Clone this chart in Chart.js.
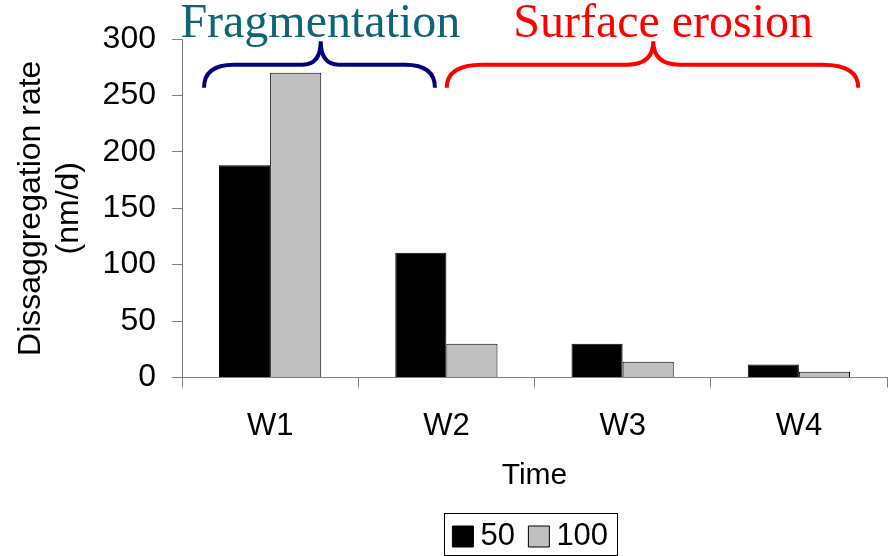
<!DOCTYPE html>
<html>
<head>
<meta charset="utf-8">
<script src="https://cdn.jsdelivr.net/npm/chart.js@4.4.1/dist/chart.umd.min.js"></script>
<style>
  body { margin: 0; background: #fff; }
  canvas { display: block; }
</style>
</head>
<body>
<canvas id="chart" width="891" height="556"></canvas>
<script>
// Données
const categories = ['W1', 'W2', 'W3', 'W4'];
const seriesNames = ['50', '100'];
const rate50 = [188, 110.5, 30, 11.5];
const rate100 = [270, 30, 14, 5];
const yTicks = [0, 50, 100, 150, 200, 250, 300];

// Accolades et textes au-dessus des barres (x en index de catégorie, y en nm/d)
const braces = [
  { text: 'Fragmentation', color: '#0d6678', braceColor: '#000080', from: -0.375, to: 0.935, tip: 0.287, textX: 0.285, r: 30, rMid: 18 },
  { text: 'Surface erosion', color: '#ff0000', braceColor: '#ff0000', from: 1.002, to: 3.337, tip: 2.174, textX: 2.23, r: 36, rMid: 26 }
];
const braceEnd = 256.8, braceFlat = 277.2, braceTip = 297.9, braceText = 301.5;

const SANS = "'Liberation Sans', Arial, sans-serif";

const bracePlugin = {
  id: 'braces',
  afterLayout(chart) {
    // légende centrée sous la zone du graphique
    const lg = chart.legend;
    const area = chart.chartArea;
    const dx = (area.left + area.right) / 2 - (lg.left + lg.right) / 2;
    lg.left += dx;
    lg.right += dx;
  },
  afterDraw(chart) {
    const ctx = chart.ctx;
    const x = chart.scales.x, y = chart.scales.y;
    braces.forEach(function (b) {
      const x0 = x.getPixelForValue(b.from);
      const x1 = x.getPixelForValue(b.to);
      const xm = x.getPixelForValue(b.tip);
      const yb = y.getPixelForValue(braceEnd);
      const yh = y.getPixelForValue(braceFlat);
      const yt = y.getPixelForValue(braceTip);
      ctx.save();
      ctx.strokeStyle = b.braceColor;
      ctx.lineWidth = 4;
      ctx.beginPath();
      ctx.moveTo(x0, yb);
      ctx.quadraticCurveTo(x0, yh, x0 + b.r, yh);
      ctx.lineTo(xm - b.rMid, yh);
      ctx.quadraticCurveTo(xm, yh, xm, yt);
      ctx.quadraticCurveTo(xm, yh, xm + b.rMid, yh);
      ctx.lineTo(x1 - b.r, yh);
      ctx.quadraticCurveTo(x1, yh, x1, yb);
      ctx.stroke();
      ctx.fillStyle = b.color;
      ctx.font = "48px 'Liberation Serif', 'Times New Roman', serif";
      ctx.textAlign = 'center';
      ctx.textBaseline = 'alphabetic';
      ctx.fillText(b.text, x.getPixelForValue(b.textX), y.getPixelForValue(braceText));
      ctx.restore();
    });
    // cadre de la légende
    const boxes = chart.legend.legendHitBoxes;
    if (boxes && boxes.length) {
      let l = Infinity, r = -Infinity, t = boxes[0].top;
      boxes.forEach(function (h) {
        l = Math.min(l, h.left);
        r = Math.max(r, h.left + h.width);
      });
      ctx.save();
      ctx.strokeStyle = '#000';
      ctx.lineWidth = 1;
      const bx = Math.round(l - 17) + 0.5, by = Math.round(t - 8) + 0.5;
      ctx.strokeRect(bx, by, Math.round(r + 9) - bx + 0.5, Math.round(t + 34) - by + 0.5);
      ctx.restore();
    }
  }
};

const myChart = new Chart(document.getElementById('chart').getContext('2d'), {
  type: 'bar',
  data: {
    labels: categories,
    datasets: [
      {
        label: seriesNames[0],
        data: rate50,
        backgroundColor: '#000000',
        borderColor: '#000000',
        borderWidth: 1
      },
      {
        label: seriesNames[1],
        data: rate100,
        backgroundColor: '#c0c0c0',
        borderColor: '#000000',
        borderWidth: 1
      }
    ]
  },
  options: {
    responsive: false,
    animation: false,
    categoryPercentage: 0.58,
    barPercentage: 1.0,
    layout: { padding: { top: 39, left: 8, right: 4, bottom: -6 } },
    plugins: {
      tooltip: { enabled: false },
      legend: {
        position: 'bottom',
        labels: {
          color: '#000',
          font: { family: SANS, size: 31 },
          usePointStyle: true,
          pointStyle: 'rect',
          boxWidth: 4,
          boxHeight: 21,
          padding: 22
        }
      }
    },
    scales: {
      x: {
        grid: { drawOnChartArea: false, tickLength: 10, color: '#808080', offset: true },
        border: { color: '#808080', width: 1 },
        ticks: { color: '#000', font: { family: SANS, size: 31 }, padding: 20 },
        title: { display: true, text: 'Time', color: '#000', font: { family: SANS, size: 30 }, padding: { top: 0, bottom: 5 } },
        afterFit: function (scale) { scale.height = 121.5; }
      },
      y: {
        min: 0,
        max: 300,
        afterBuildTicks: function (scale) {
          scale.ticks = yTicks.map(function (v) { return { value: v }; });
        },
        grid: { drawOnChartArea: false, tickLength: 10, color: '#808080' },
        border: { color: '#808080', width: 1 },
        ticks: { color: '#000', font: { family: SANS, size: 32 }, padding: 16 },
        title: {
          display: true,
          text: ['Dissaggregation rate', '(nm/d)'],
          color: '#000',
          font: { family: SANS, size: 32, lineHeight: 1.2 },
          padding: { top: 4, bottom: 0 }
        },
        afterFit: function (scale) { scale.width = 174; }
      }
    }
  },
  plugins: [bracePlugin]
});
</script>
</body>
</html>
